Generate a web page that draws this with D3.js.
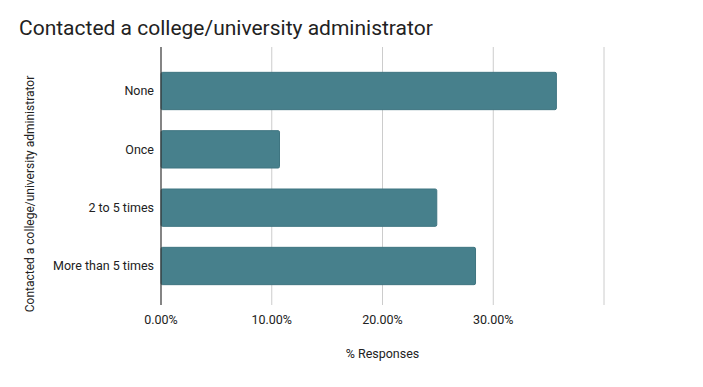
<!DOCTYPE html>
<html>
<head>
<meta charset="utf-8">
<script src="https://cdn.jsdelivr.net/npm/d3@7"></script>
<style>
  body { margin: 0; background: #fff; }
  text { font-family: Roboto, sans-serif; fill: #222; }
</style>
</head>
<body>
<svg width="703" height="387"></svg>
<script>
// chart data
const categories = ['None', 'Once', '2 to 5 times', 'More than 5 times'];
const responses = [0.357, 0.107, 0.249, 0.284];
const tickValues = [0, 0.1, 0.2, 0.3, 0.4];
const tickLabels = ['0.00%', '10.00%', '20.00%', '30.00%'];

const svg = d3.select('svg');
const width = 703, height = 387;

svg.append('rect').attr('width', width).attr('height', height).attr('fill', '#fff');

const plot = { left: 161, right: 604, top: 47, bottom: 305 };

const x = d3.scaleLinear().domain([0, 0.4]).range([plot.left, plot.right]);
const y = d3.scaleBand()
    .domain(categories)
    .range([plot.top + 2, plot.bottom + 3])
    .paddingInner(0.36)
    .paddingOuter(0.4);

// title
svg.append('text')
    .attr('x', 19).attr('y', 35)
    .style('font-size', '21px')
    .text('Contacted a college/university administrator');

// gridlines
svg.append('g').selectAll('line')
    .data(tickValues.slice(1))
    .enter().append('line')
    .attr('x1', d => x(d)).attr('x2', d => x(d))
    .attr('y1', plot.top).attr('y2', plot.bottom)
    .attr('stroke', '#ccc').attr('stroke-width', 1);

// bars
svg.append('g').selectAll('rect')
    .data(categories.map((c, i) => ({ c, v: responses[i] })))
    .enter().append('rect')
    .attr('x', x(0))
    .attr('y', d => y(d.c))
    .attr('width', d => x(d.v) - x(0))
    .attr('height', y.bandwidth())
    .attr('rx', 1.5)
    .attr('fill', '#47808c')
    .attr('stroke', '#3f7581')
    .attr('stroke-width', 1);

// zero line
svg.append('line')
    .attr('x1', x(0)).attr('x2', x(0))
    .attr('y1', plot.top).attr('y2', plot.bottom)
    .attr('stroke', '#333').attr('stroke-width', 1.2);

// category labels
svg.append('g').selectAll('text')
    .data(categories)
    .enter().append('text')
    .attr('x', plot.left - 7)
    .attr('y', d => y(d) + y.bandwidth() / 2)
    .attr('dy', '0.35em')
    .attr('text-anchor', 'end')
    .style('font-size', '12.5px')
    .text(d => d);

// x tick labels
svg.append('g').selectAll('text')
    .data(tickLabels)
    .enter().append('text')
    .attr('x', (d, i) => x(tickValues[i]))
    .attr('y', 324)
    .attr('text-anchor', 'middle')
    .style('font-size', '12.5px')
    .text(d => d);

// axis titles
svg.append('text')
    .attr('x', (plot.left + plot.right) / 2)
    .attr('y', 358)
    .attr('text-anchor', 'middle')
    .style('font-size', '12.5px')
    .text('% Responses');

svg.append('text')
    .attr('transform', 'translate(34,' + 194 + ') rotate(-90)')
    .attr('text-anchor', 'middle')
    .style('font-size', '12px')
    .text('Contacted a college/university administrator');
</script>
</body>
</html>
